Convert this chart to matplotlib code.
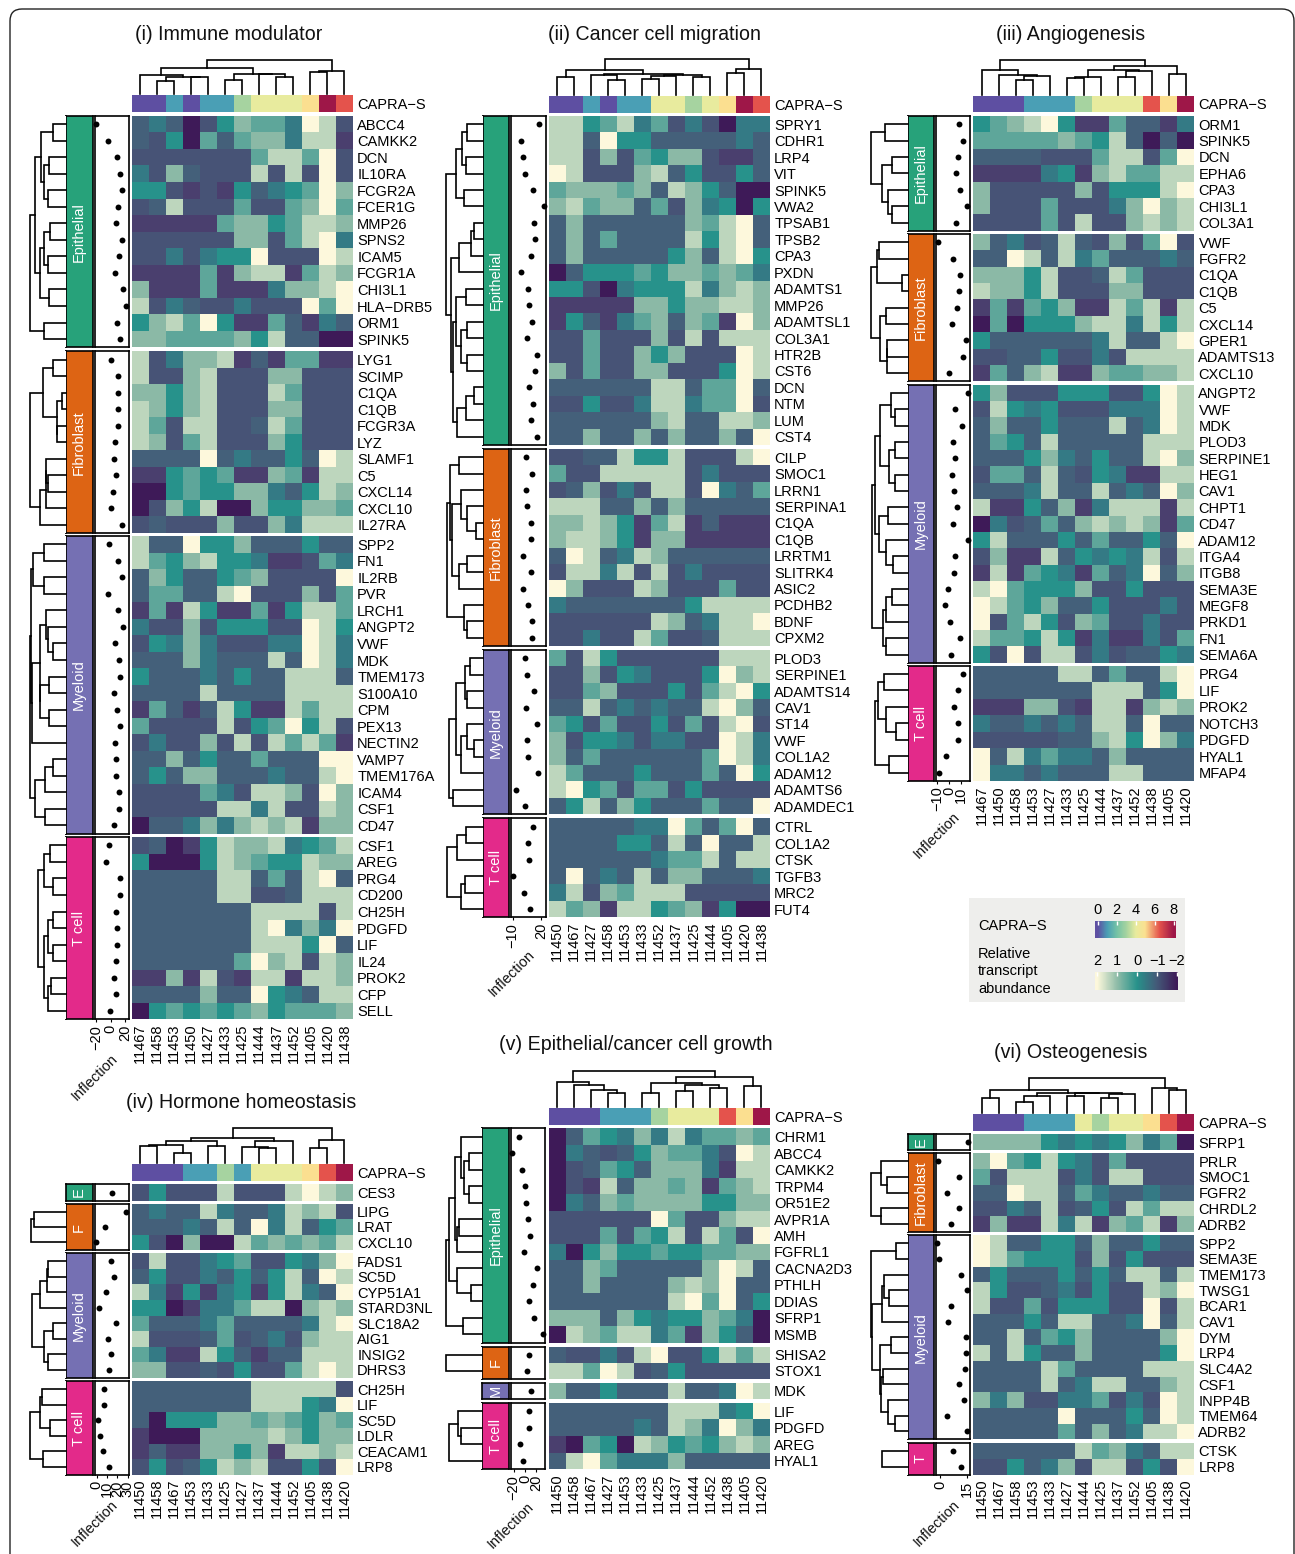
import numpy as np
import matplotlib
matplotlib.use("Agg")
import matplotlib.pyplot as plt
from matplotlib.colors import ListedColormap, LinearSegmentedColormap
from matplotlib.patches import FancyBboxPatch, Rectangle

plt.rcParams['font.family'] = ['Liberation Sans', 'DejaVu Sans']

W, H = 1295, 1554

# sample -> CAPRA-S score
samples = ['11467', '11458', '11453', '11450', '11427', '11433', '11425', '11444', '11437', '11452', '11405', '11420', '11438']
capra = [0, 0, 1, 0, 1, 1, 3, 4, 4, 4, 5, 8, 6.5]

# heat values are levels 0 (dark, about -2) to 9 (cream, about +2), one digit per cell
# ---------- (i) Immune modulator
i_cols = ['11467', '11458', '11453', '11450', '11427', '11433', '11425', '11444', '11437', '11452', '11405', '11420', '11438']
i_ctree = [1, [.76, [.55, 0, [.5, [.38, 0, 0], [.5, 0, 0]]], [.6, [.42, 0, 0], [.6, 0, [.5, 0, 0]]]], [.68, [.63, 0, 0], 0]]

i_ep_genes = ['ABCC4', 'CAMKK2', 'DCN', 'IL10RA', 'FCGR2A', 'FCER1G', 'MMP26', 'SPNS2', 'ICAM5', 'FCGR1A', 'CHI3L1', 'HLA\u2212DRB5', 'ORM1', 'SPINK5']
i_ep_vals = ['3430257664982', '3250636774881', '2222222688692', '4273222828292', '5521215345697', '2382226226796', '1111167756887',
             '2222227726894', '2242455922298', '1111617881687', '7111611147789', '8243224222969', '5786951163143', '7766667583300']
i_ep_inf = [-20, -4, 9, 13, 15, 10, 8, 15, 11.5, 6, 16.5, 21.5, 9, 13]
i_ep_tree = [1, [.84, [.67, [.35, 0, 0], [.6, [.46, 0, 0], [.49, 0, 0]]], [.7, [.6, [.42, 0, 0], [.49, 0, 0]], [.45, 0, 0]]], [.6, 0, 0]]

i_fi_genes = ['LYG1', 'SCIMP', 'C1QA', 'C1QB', 'FCGR3A', 'LYZ', 'SLAMF1', 'C5', 'CXCL14', 'CXCL10', 'IL27RA']
i_fi_vals = ['8247781316611', '8227822277222', '7757822286222', '8757822277222', '8628822386222', '8726822275222',
             '3333934335398', '1156561176188', '0056557743587', '0275800755776', '2322272274888']
i_fi_inf = [0, 10, 10, 10, 10, 6.5, 4, 8, 3, 0, 16]
i_fi_tree = [1, [.63, [.35, 0, 0], [.25, [.1, 0, 0], [.23, 0, 0]]], [.72, [.55, [.55, 0, [.5, 0, 0]], 0], 0]]

i_my_genes = ['SPP2', 'FN1', 'IL2RB', 'PVR', 'LRCH1', 'ANGPT2', 'VWF', 'MDK', 'TMEM173', 'S100A10', 'CPM', 'PEX13', 'NECTIN2', 'VAMP7', 'TMEM176A', 'ICAM4', 'CSF1', 'CD47']
i_my_vals = ['8339557333533', '8657855411264', '3753356722229', '3663389222726', '1618511615886', '4227255522985',
             '2547422244984', '3337433383984', '5333435338883', '3333833338888', '1631385118688', '6222282569582',
             '2422728286861', '3373533633399', '3537733343389', '2222642887297', '2222288482287', '0334747878177']
i_my_inf = [-2, 10.5, 16, -4, 10, 17.5, 6, 12, 13, 4.5, 9, 13, 5.5, 7, 7.5, 11.5, 11.5, 4]
i_my_tree = [1, [.97, [.9, [.6, 0, 0], [.6, 0, 0]], [.93, [.72, [.55, 0, [.5, 0, [.35, 0, 0]]], [.7, [.45, 0, 0], [.45, 0, 0]]], 0]], [.85, [.58, [.35, 0, 0], 0], [.58, 0, 0]]]

i_tc_genes = ['CSF1', 'AREG', 'PRG4', 'CD200', 'CH25H', 'PDGFD', 'LIF', 'IL24', 'PROK2', 'CFP', 'SELL']
i_tc_vals = ['2301587784568', '5000587655877', '3333388363893', '3333388223888', '3333333888828', '3333333894749',
             '3333333888593', '3333336978287', '1171821881887', '3333733954388', '0565656756667']
i_tc_inf = [-2, -7, 13, 12.5, 8, 9, 9, 8, 4.5, 7, -1.5]
i_tc_tree = [.77, [.6, [.42, 0, 0], [.35, 0, 0]], [.6, [.5, [.35, 0, 0], [.35, 0, 0]], [.48, [.4, 0, 0], 0]]]

# ---------- (ii) Cancer cell migration
ii_cols = ['11450', '11467', '11427', '11458', '11453', '11433', '11452', '11437', '11425', '11444', '11405', '11420', '11438']
ii_ctree = [1, [.7, [.51, 0, 0], [.58, [.55, 0, [.42, 0, 0]], [.57, [.52, [.45, 0, 0], 0], [.5, 0, 0]]]], [.72, [.62, 0, 0], 0]]

ii_ep_genes = ['SPRY1', 'CDHR1', 'LRP4', 'VIT', 'SPINK5', 'VWA2', 'TPSAB1', 'TPSB2', 'CPA3', 'PXDN', 'ADAMTS1', 'MMP26', 'ADAMTSL1', 'COL3A1', 'HTR2B', 'CST6', 'DCN', 'NTM', 'LUM', 'CST4']
ii_ep_vals = ['8856846242044', '8839553333343', '8827265772113', '9822278352253', '6777673875300', '7867736274505',
              '3733333376893', '3736333385893', '3733333573895', '0355565776764', '5520455584787', '1111177577887',
              '1531467376197', '2262227282888', '2262275722298', '7262277222598', '3333338836693', '2252248846692',
              '3333337833887', '3373373733739']
ii_ep_inf = [18, -1, .6, 3, 12, 23, 13, 14, 9, -1, 6.6, 7, 10, 5.5, 16, 13.7, 7, 11.5, 9.4, 16]
ii_ep_tree = [1, [.73, [.56, [.43, 0, 0], [.47, 0, 0]], [.52, 0, 0]],
              [.86, [.65, [.32, [.23, 0, 0], 0], 0], [.82, [.72, [.46, 0, 0], [.6, [.42, 0, 0], [.43, 0, 0]]], [.7, [.45, [.25, 0, 0], 0], 0]]]]

ii_fi_genes = ['CILP', 'SMOC1', 'LRRN1', 'SERPINA1', 'C1QA', 'C1QB', 'LRRTM1', 'SLITRK4', 'ASIC2', 'PCDHB2', 'BDNF', 'CPXM2']
ii_fi_vals = ['2233855822289', '6228888824222', '2372428829436', '8883373733333', '7787516813111', '7887517711111',
              '3983487333333', '2884828242222', '9722287222622', '4333333358888', '2222228734889', '2242286223888']
ii_fi_inf = [4, 10.5, 4.5, 5.5, 9.4, 9, .6, 9, .6, 6.6, 11, 10.5]
ii_fi_tree = [.98, [.9, [.65, 0, 0], [.85, [.6, 0, [.42, 0, [.2, 0, 0]]], [.65, [.42, 0, 0], 0]]], [.52, 0, [.42, 0, 0]]]

ii_my_genes = ['PLOD3', 'SERPINE1', 'ADAMTS14', 'CAV1', 'ST14', 'VWF', 'COL1A2', 'ADAM12', 'ADAMTS6', 'ADAMDEC1']
ii_my_vals = ['6285222222888', '2272542225978', '2267222526895', '3383434338973', '6526225262892',
              '7255424422984', '7363333336984', '8633353336395', '8956266252222', '3583753336339']
ii_my_inf = [3, 5, 13, 4, 16, 5, 6, 16.5, -6, 3]
ii_my_tree = [.92, [.72, [.5, [.34, 0, 0], [.43, 0, 0]], [.6, [.42, 0, [.25, 0, 0]], 0]], [.82, 0, 0]]

ii_tc_genes = ['CTRL', 'COL1A2', 'CTSK', 'TGFB3', 'MRC2', 'FUT4']
ii_tc_vals = ['3333344963693', '3333553839338', '3333334668388', '3934383773334', '4827688822222', '8671885671500']
ii_tc_inf = [12, 6, 7, -9.5, 2, 8.7]
ii_tc_tree = [.96, [.7, [.45, 0, 0], 0], [.6, [.5, 0, 0], 0]]

# ---------- (iii) Angiogenesis
iii_cols = ['11467', '11450', '11458', '11453', '11427', '11433', '11425', '11444', '11437', '11452', '11438', '11405', '11420']
iii_ctree = [1, [.71, 0, [.57, 0, [.55, [.43, 0, 0], 0]]], [.83, [.72, [.52, [.48, 0, 0], 0], [.68, [.52, 0, 0], 0]], [.6, 0, 0]]]

iii_ep_genes = ['ORM1', 'SPINK5', 'DCN', 'EPHA6', 'CPA3', 'CHI3L1', 'COL3A1']
iii_ep_vals = ['5678951163314', '6666676583030', '3333222688269', '1111451786688', '7222227255589', '7222622247978', '2222628227878']
iii_ep_inf = [8.3, 11.7, 7.4, 6, 9.4, 15.4, 6]
iii_ep_tree = [1, [.63, 0, 0], [.7, [.43, 0, 0], [.55, 0, [.44, 0, 0]]]]

iii_fi_genes = ['VWF', 'FGFR2', 'C1QA', 'C1QB', 'C5', 'CXCL14', 'GPER1', 'ADAMTS13', 'CXCL10']
iii_fi_vals = ['7342383272692', '3398384633343', '7775822386222', '8775822277222', '1616571186818',
               '0605557884858', '5333333483389', '2233522428888', '1637811766778']
iii_fi_inf = [-9.7, 3.7, 9.4, 8.9, 6.9, 2.6, 15, 11.7, 0]
iii_fi_tree = [1, [.85, [.77, 0, 0], [.16, 0, 0]], [.75, [.6, 0, 0], [.57, [.57, 0, 0], 0]]]

iii_my_genes = ['ANGPT2', 'VWF', 'MDK', 'PLOD3', 'SERPINE1', 'HEG1', 'CAV1', 'CHPT1', 'CD47', 'ADAM12', 'ITGA4', 'ITGB8', 'SEMA3E', 'MEGF8', 'PRKD1', 'FN1', 'SEMA6A']
iii_my_vals = ['5722255522598', '2854522244498', '3733533383498', '3653833333888', '3335743533897', '2663832541188',
               '3334833834397', '8115371488818', '0423637878716', '5833353633539', '2711835454828', '1816541634937',
               '8965557225222', '9865733522242', '9268527622422', '8665851411426', '5292882423354']
iii_my_inf = [16, 5, 11, 3.4, 5.4, 2.9, 4.3, 7, 3.7, 16.5, 4.9, 4.6, -1, -3.4, .9, 9.7, 2]
iii_my_tree = [.97, [.9, [.75, [.45, 0, [.35, 0, 0]], [.5, [.35, 0, 0], [.35, 0, 0]]], [.78, [.55, 0, 0], [.6, 0, [.4, 0, 0]]]], [.68, [.6, [.42, 0, 0], 0], [.6, 0, 0]]]

iii_tc_genes = ['PRG4', 'LIF', 'PROK2', 'NOTCH3', 'PDGFD', 'HYAL1', 'MFAP4']
iii_tc_vals = ['3333388363389', '3333333888359', '1117721881787', '4334343883933', '2222233785974', '9384644373333', '9443433388333']
iii_tc_inf = [11.7, 7.7, 4, 7.4, 8, -2.9, -8.9]
iii_tc_tree = [.89, [.82, [.65, 0, 0], [.6, 0, [.33, 0, 0]]], [.5, 0, 0]]

# ---------- (iv) Hormone homeostasis
iv_cols = ['11450', '11458', '11467', '11453', '11433', '11425', '11427', '11437', '11444', '11452', '11405', '11438', '11420']
iv_ctree = [1, [.71, [.64, [.52, [.5, 0, 0], [.3, 0, 0]], [.48, 0, 0]], [.64, [.45, 0, [.43, 0, 0]], 0]], [.67, [.43, 0, 0], 0]]

iv_ep_genes = ['CES3']
iv_ep_vals = ['2522282228987']
iv_ep_inf = [15]

iv_fi_genes = ['LIPG', 'LRAT', 'CXCL10']
iv_fi_vals = ['3433843348782', '3334383948356', '5207008676768']
iv_fi_inf = [28.7, 7.7, -.3]
iv_fi_tree = [.95, [.87, 0, 0], 0]

iv_my_genes = ['FADS1', 'SC5D', 'CYP51A1', 'STARD3NL', 'SLC18A2', 'AIG1', 'INSIG2', 'DHRS3']
iv_my_vals = ['2822456225479', '3522435358398', '8415145158439', '5501446880787', '6333463333489', '8222362342788', '6411853133888', '7722325226898']
iv_my_inf = [14, 16.8, 8.7, 2.6, 18.4, 11.3, 13.9, 12.3]
iv_my_tree = [.93, [.7, [.53, [.5, 0, 0], 0], 0], [.6, [.34, 0, 0], [.5, 0, 0]]]

iv_tc_genes = ['CH25H', 'LIF', 'SC5D', 'LDLR', 'CEACAM1', 'LRP8']
iv_tc_vals = ['3333333888882', '3333333888549', '3055577676576', '1000777787577', '1311775718878', '2523587822529']
iv_tc_inf = [6.8, 7, 1, 3.2, 6.5, 11.6]
iv_tc_tree = [.99, [.72, [.66, 0, 0], [.44, 0, 0]], [.62, 0, 0]]

# ---------- (v) Epithelial/cancer cell growth
v_cols = ['11450', '11458', '11467', '11427', '11453', '11433', '11425', '11437', '11444', '11452', '11438', '11405', '11420']
v_ctree = [1, [.7, 0, [.6, 0, [.47, 0, [.38, 0, 0]]]], [.82, [.66, [.38, 0, 0], [.6, [.44, 0, 0], [.52, 0, 0]]], [.57, 0, 0]]]

v_ep_genes = ['CHRM1', 'ABCC4', 'CAMKK2', 'TRPM4', 'OR51E2', 'AVPR1A', 'AMH', 'FGFRL1', 'CACNA2D3', 'PTHLH', 'DDIAS', 'SFRP1', 'MSMB']
v_ep_vals = ['0365474846676', '0432357664298', '0236537774188', '0218377671678', '0437677775577', '2222229622788', '2226265828629',
             '4057556556677', '3376333337983', '3373333787933', '3333333896935', '7773754557640', '0876884617530']
v_ep_inf = [-10.5, -22, -5.8, 0, 1.7, 5.2, 9.3, -1.2, 20.3, 13.4, 7, 15, 30.8]
v_ep_tree = [1, [.92, [.75, [.58, 0, [.5, [.36, 0, 0], [.36, 0, 0]]], [.68, [.64, 0, 0], 0]], [.68, 0, [.3, 0, 0]]], [.52, 0, 0]]

v_fi_genes = ['SHISA2', 'STOX1']
v_fi_vals = ['3224289225868', '8869823522222']
v_fi_inf = [7.6, 3.5]
v_fi_tree = [.98, 0, 0]

v_my_genes = ['MDK']
v_my_vals = ['7335333833498']
v_my_inf = [11]

v_tc_genes = ['LIF', 'PDGFD', 'AREG', 'HYAL1']
v_tc_vals = ['3333333888459', '3333343874974', '1065087565787', '3896444733333']
v_tc_inf = [6.4, 7, -8.7, -4]
v_tc_tree = [.9, [.66, 0, [.57, 0, 0]], 0]

# ---------- (vi) Osteogenesis
vi_cols = ['11450', '11467', '11458', '11453', '11433', '11427', '11444', '11425', '11437', '11452', '11405', '11438', '11420']
vi_ctree = [1, [.65, [.42, 0, 0], [.58, [.48, [.3, 0, 0], 0], [.57, [.49, 0, 0], [.53, [.43, 0, 0], 0]]]], [.7, 0, [.65, 0, 0]]]

vi_ep_genes = ['SFRP1']
vi_ep_vals = ['7777545457460']
vi_ep_inf = [15.6]

vi_fi_genes = ['PRLR', 'SMOC1', 'FGFR2', 'CHRDL2', 'ADRB2']
vi_fi_vals = ['7965854262222', '6288824288222', '3398836433433', '2243823528688', '1711848176817']
vi_fi_inf = [-1.3, 10.4, 3.8, 10.8, 6]
vi_fi_tree = [1, [.72, 0, [.56, 0, 0]], [.72, 0, 0]]

vi_my_genes = ['SPP2', 'SEMA3E', 'TMEM173', 'TWSG1', 'BCAR1', 'CAV1', 'DYM', 'LRP4', 'SLC4A2', 'CSF1', 'INPP4B', 'TMEM64', 'ADRB2']
vi_my_vals = ['9833553733533', '9865552725222', '3533353538838', '8522342522879', '8226255522928', '3335388334938', '3383657333379',
              '8385337333359', '3333863333888', '3333834883378', '7472244624298', '3333393335398', '3333363734889']
vi_my_inf = [-1.7, -1, 12, 15, 5.9, 4.6, 14.6, 14.6, 14, 10.6, 13.3, 4, 15]
vi_my_tree = [1, [.32, 0, 0], [.97, [.7, [.65, 0, [.5, 0, 0]], 0], [.75, [.45, 0, 0], [.72, [.68, 0, 0], [.55, 0, [.35, 0, 0]]]]]]

vi_tc_genes = ['CTSK', 'LRP8']
vi_tc_vals = ['3333338674388', '2253472882529']
vi_tc_inf = [7.4, 12]
vi_tc_tree = [.7, 0, 0]

heat_colors = ['#3e1a58', '#4a3f6e', '#475376', '#44607a', '#347a85', '#27928b', '#5ea69a', '#8bb9a6', '#bdd6bd', '#fdf8dc']
heat_cmap = ListedColormap(heat_colors)
abund_cmap = LinearSegmentedColormap.from_list('abund', ['#3e1a58', '#445a78', '#27928b', '#8fbca8', '#fdf8dc'])
capra_cmap = LinearSegmentedColormap.from_list('capra', [(0, '#5e4fa2'), (1/8, '#4a9fb5'), (2/8, '#74c2a6'), (3/8, '#a5d3a0'),
                                                         (4/8, '#e8eb9e'), (5/8, '#fbe191'), (6.5/8, '#e5544c'), (1, '#9e1748')])
block_colors = {'E': '#27a27a', 'F': '#dd6414', 'M': '#7570b3', 'T': '#e32a8a'}
FS = 10.5
LW = 1.2


def axpx(l, t, r, b):
    return fig.add_axes([l / W, 1 - b / H, (r - l) / W, (b - t) / H])


def draw_tree(ax, node, counter, horiz):
    # leaf is 0, node is [height, left, right]
    if node == 0:
        pos = counter[0] + 0.5
        counter[0] += 1
        return pos, 0
    p1, h1 = draw_tree(ax, node[1], counter, horiz)
    p2, h2 = draw_tree(ax, node[2], counter, horiz)
    h = node[0]
    a, b = [h1, h, h, h2], [p1, p1, p2, p2]
    if horiz:
        ax.plot(a, b, color='black', lw=LW, solid_joinstyle='miter', clip_on=False)
    else:
        ax.plot(b, a, color='black', lw=LW, solid_joinstyle='miter', clip_on=False)
    return (p1 + p2) / 2, h


def clean(ax):
    ax.set_xticks([])
    ax.set_yticks([])
    for s in ax.spines.values():
        s.set_visible(False)


def draw_panel(p):
    fig.text(p['tx'] / W, 1 - (p['ty'] + 1) / H, p['title'], fontsize=14.1, ha='center', va='center', color='#111111')
    hx0, hx1 = p['heat']
    ncol = len(p['cols'])

    # column dendrogram
    ax = axpx(hx0, p['ctop'], hx1, p['anno'][0] - 1)
    clean(ax)
    ax.set_xlim(0, ncol)
    ax.set_ylim(0, 1)
    draw_tree(ax, p['ctree'], [0], False)

    # CAPRA-S strip
    ax = axpx(hx0, p['anno'][0], hx1, p['anno'][1])
    clean(ax)
    strip = [[capra[samples.index(c)] for c in p['cols']]]
    ax.pcolormesh(np.arange(ncol + 1), [0, 1], strip, cmap=capra_cmap, vmin=0, vmax=8)
    ax.yaxis.tick_right()
    ax.set_yticks([0.5], ['CAPRA\u2212S'], fontsize=FS)
    ax.tick_params(axis='y', length=0, pad=3)

    n_blocks = len(p['blocks'])
    for k, b in enumerate(p['blocks']):
        t, bot = b['y']
        vals = np.array([[int(c) for c in row] for row in b['vals']])
        nrow = len(b['vals'])

        ax = axpx(hx0, t, hx1, bot)
        ax.pcolormesh(np.arange(ncol + 1), np.arange(nrow + 1), vals, cmap=heat_cmap, vmin=-.5, vmax=9.5)
        ax.set_ylim(nrow, 0)
        ax.yaxis.tick_right()
        ax.set_yticks(np.arange(nrow) + .5, b['genes'], fontsize=FS)
        ax.tick_params(axis='y', length=0, pad=3)
        for s in ax.spines.values():
            s.set_visible(False)
        if k == n_blocks - 1:
            ax.set_xticks(np.arange(ncol) + .5, p['cols'], rotation=90, fontsize=FS)
            ax.tick_params(axis='x', length=0, pad=3)
        else:
            ax.set_xticks([])

        # cell type strip
        ax = axpx(p['lab'][0], t, p['lab'][1], bot)
        ax.set_facecolor(block_colors[b['key']])
        ax.set_xticks([])
        ax.set_yticks([])
        for s in ax.spines.values():
            s.set_linewidth(1.2)
        ax.text(.5, .5, b['name'], transform=ax.transAxes, rotation=90, ha='center', va='center', color='white', fontsize=FS)

        # inflection dots
        ax = axpx(p['inf'][0], t, p['inf'][1], bot)
        ax.scatter(b['inf'], np.arange(nrow) + .5, s=18, color='black', clip_on=False, zorder=3, linewidths=0)
        ax.set_xlim(*p['inflim'])
        ax.set_ylim(nrow, 0)
        ax.set_yticks([])
        for s in ax.spines.values():
            s.set_linewidth(1.2)
        if k == n_blocks - 1:
            ax.set_xticks(p['infticks'])
            ax.tick_params(axis='x', length=2.5, width=.8, pad=1.5, labelsize=FS, labelrotation=90)
        else:
            ax.set_xticks([])

        # row dendrogram
        if b['tree'] is not None:
            ax = axpx(p['den'][0], t, p['den'][1], bot)
            clean(ax)
            ax.set_xlim(1.0, 0)
            ax.set_ylim(nrow, 0)
            draw_tree(ax, b['tree'], [0], True)

    fig.text(p['infx'] / W, 1 - p['infy'] / H, 'Inflection', rotation=45, ha='center', va='center', fontsize=FS, color='#111111')


def block(key, name, y, genes, vals, inf, tree=None):
    return dict(key=key, name=name, y=y, genes=genes, vals=vals, inf=inf, tree=tree)


panels = [
    dict(title='(i) Immune modulator', tx=229, ty=33, cols=i_cols, ctree=i_ctree, heat=(131.7, 353), ctop=59.7, anno=(95.2, 112.4),
         lab=(65.7, 92.7), inf=(94.7, 128.7), den=(29.5, 65.7), inflim=(-22, 24.8), infticks=[-20, 0, 20], infx=95, infy=1077,
         blocks=[block('E', 'Epithelial', (115.8, 347.4), i_ep_genes, i_ep_vals, i_ep_inf, i_ep_tree),
                 block('F', 'Fibroblast', (351.4, 533), i_fi_genes, i_fi_vals, i_fi_inf, i_fi_tree),
                 block('M', 'Myeloid', (536, 833.6), i_my_genes, i_my_vals, i_my_inf, i_my_tree),
                 block('T', 'T cell', (837, 1019.2), i_tc_genes, i_tc_vals, i_tc_inf, i_tc_tree)]),
    dict(title='(ii) Cancer cell migration', tx=654, ty=33, cols=ii_cols, ctree=ii_ctree, heat=(548.7, 770), ctop=59.3, anno=(95.7, 112.7),
         lab=(483, 509.3), inf=(511.3, 545.7), den=(446, 483), inflim=(-11.4, 25), infticks=[-10, 20], infx=512, infy=973,
         blocks=[block('E', 'Epithelial', (116, 445), ii_ep_genes, ii_ep_vals, ii_ep_inf, ii_ep_tree),
                 block('F', 'Fibroblast', (449, 646), ii_fi_genes, ii_fi_vals, ii_fi_inf, ii_fi_tree),
                 block('M', 'Myeloid', (650, 814.3), ii_my_genes, ii_my_vals, ii_my_inf, ii_my_tree),
                 block('T', 'T cell', (818.3, 917.3), ii_tc_genes, ii_tc_vals, ii_tc_inf, ii_tc_tree)]),
    dict(title='(iii) Angiogenesis', tx=1071, ty=33, cols=iii_cols, ctree=iii_ctree, heat=(973.3, 1194.3), ctop=60, anno=(95.7, 112),
         lab=(907.7, 934), inf=(936, 970), den=(871, 907.7), inflim=(-11.1, 18), infticks=[-10, 0, 10], infx=936.7, infy=835,
         blocks=[block('E', 'Epithelial', (116, 230.7), iii_ep_genes, iii_ep_vals, iii_ep_inf, iii_ep_tree),
                 block('F', 'Fibroblast', (234, 381.3), iii_fi_genes, iii_fi_vals, iii_fi_inf, iii_fi_tree),
                 block('M', 'Myeloid', (384.7, 662.7), iii_my_genes, iii_my_vals, iii_my_inf, iii_my_tree),
                 block('T', 'T cell', (665.6, 781), iii_tc_genes, iii_tc_vals, iii_tc_inf, iii_tc_tree)]),
    dict(title='(iv) Hormone homeostasis', tx=241, ty=1101, cols=iv_cols, ctree=iv_ctree, heat=(131.7, 353), ctop=1128, anno=(1164.3, 1181),
         lab=(65.7, 92.7), inf=(94.7, 128.7), den=(29.5, 65.7), inflim=(-1.9, 31), infticks=[0, 10, 20, 30], infx=95, infy=1523,
         blocks=[block('E', 'E', (1184.3, 1200.7), iv_ep_genes, iv_ep_vals, iv_ep_inf),
                 block('F', 'F', (1204, 1250), iv_fi_genes, iv_fi_vals, iv_fi_inf, iv_fi_tree),
                 block('M', 'Myeloid', (1253.3, 1377.7), iv_my_genes, iv_my_vals, iv_my_inf, iv_my_tree),
                 block('T', 'T cell', (1381.3, 1474.7), iv_tc_genes, iv_tc_vals, iv_tc_inf, iv_tc_tree)]),
    dict(title='(v) Epithelial/cancer cell growth', tx=636, ty=1044, cols=v_cols, ctree=v_ctree, heat=(548.7, 770), ctop=1071, anno=(1107.7, 1124.7),
         lab=(482.3, 509), inf=(511, 545.3), den=(445.7, 482.3), inflim=(-24.4, 35.5), infticks=[-20, 0, 20], infx=511, infy=1525,
         blocks=[block('E', 'Epithelial', (1128.3, 1342.7), v_ep_genes, v_ep_vals, v_ep_inf, v_ep_tree),
                 block('F', 'F', (1346.7, 1379), v_fi_genes, v_fi_vals, v_fi_inf, v_fi_tree),
                 block('M', 'M', (1382.7, 1399), v_my_genes, v_my_vals, v_my_inf),
                 block('T', 'T cell', (1402.7, 1469.3), v_tc_genes, v_tc_vals, v_tc_inf, v_tc_tree)]),
    dict(title='(vi) Osteogenesis', tx=1071, ty=1051, cols=vi_cols, ctree=vi_ctree, heat=(973.3, 1194.3), ctop=1077.7, anno=(1114, 1130.7),
         lab=(907.7, 934), inf=(936, 970), den=(871, 907.7), inflim=(-2.5, 16.9), infticks=[0, 15], infx=936.7, infy=1523,
         blocks=[block('E', 'E', (1134.3, 1150.3), vi_ep_genes, vi_ep_vals, vi_ep_inf),
                 block('F', 'Fibroblast', (1153.3, 1232), vi_fi_genes, vi_fi_vals, vi_fi_inf, vi_fi_tree),
                 block('M', 'Myeloid', (1235.3, 1439.3), vi_my_genes, vi_my_vals, vi_my_inf, vi_my_tree),
                 block('T', 'T', (1442.7, 1474.7), vi_tc_genes, vi_tc_vals, vi_tc_inf, vi_tc_tree)]),
]

fig = plt.figure(figsize=(W / 100, H / 100), dpi=100, facecolor='white')

# page frame and legend background
bg = fig.add_axes([0, 0, 1, 1])
bg.set_xlim(0, W)
bg.set_ylim(H, 0)
bg.axis('off')
bg.add_patch(FancyBboxPatch((10, 9), 1284, 1600, boxstyle='round,pad=0,rounding_size=12', fc='white', ec='#222222', lw=1))
bg.add_patch(Rectangle((969, 898.4), 216, 103.2, fc='#eeeeec', ec='none'))
bg.text(978, 926, 'CAPRA\u2212S', fontsize=FS, va='center')
bg.text(978, 954, 'Relative', fontsize=FS, va='center')
bg.text(978, 971.5, 'transcript', fontsize=FS, va='center')
bg.text(978, 989, 'abundance', fontsize=FS, va='center')

for p in panels:
    draw_panel(p)

# colour keys
capra_ticks = [0, 2, 4, 6, 8]
abund_ticks = [2, 1, 0, -1, -2]

ax = axpx(1095, 921, 1176, 938)
ax.imshow(np.linspace(-.28, 8.24, 256)[None, :], aspect='auto', cmap=capra_cmap, vmin=0, vmax=8, extent=(-.28, 8.24, 0, 1))
ax.set_xticks(capra_ticks)
ax.set_yticks([])
ax.tick_params(axis='x', top=True, labeltop=True, bottom=False, labelbottom=False, direction='in', color='white', length=3, width=1, pad=3, labelsize=FS)
for s in ax.spines.values():
    s.set_visible(False)

ax = axpx(1095, 972.5, 1178, 990)
ax.imshow(np.linspace(2.1, -2.05, 256)[None, :], aspect='auto', cmap=abund_cmap, vmin=-2, vmax=2, extent=(2.116, -2.05, 0, 1))
ax.set_xticks(abund_ticks)
ax.set_yticks([])
ax.tick_params(axis='x', top=True, labeltop=True, bottom=False, labelbottom=False, direction='in', color='white', length=3, width=1, pad=3, labelsize=FS)
for s in ax.spines.values():
    s.set_visible(False)

fig.savefig('out.png', dpi=100)
